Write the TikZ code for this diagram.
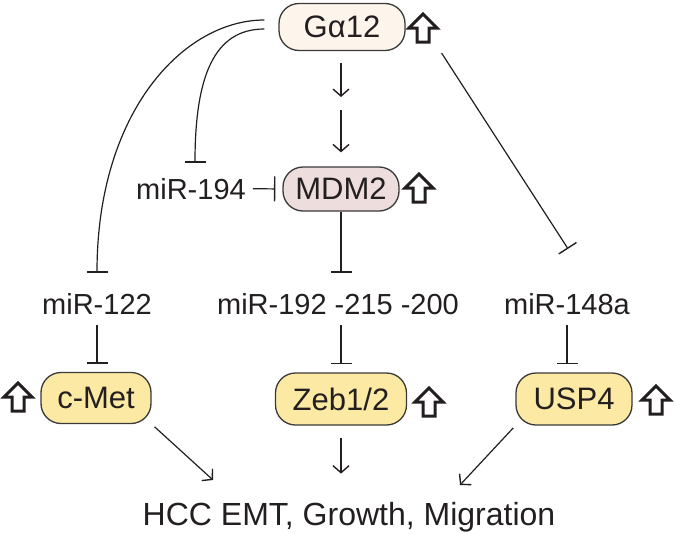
\documentclass[tikz,border=0pt]{standalone}
\usepackage{fontspec}
\setmainfont{Liberation Sans}
\usetikzlibrary{arrows.meta}
\definecolor{txt}{HTML}{231F20}
\definecolor{peach}{HTML}{FDF4EC}
\definecolor{mauve}{HTML}{EDDDDD}
\definecolor{paleyellow}{HTML}{FCE9A4}
\definecolor{edge}{HTML}{3A3A3A}
\begin{document}
\begin{tikzpicture}[x=1pt,y=-1pt,
  box/.style={draw=edge, line width=1.3pt, rounded corners=20pt, inner sep=0pt,
    font=\fontsize{31}{36}\selectfont, text=txt},
  lbl/.style={inner sep=0pt, anchor=base, font=\fontsize{29}{34}\selectfont, text=txt},
  inh/.style={draw=txt, line width=1.2pt, -{Bar[width=21pt,line width=1.4pt]}},
  act/.style={draw=txt, line width=1.2pt, -{Straight Barb[length=7pt,width=16pt,line width=1.4pt]}},
  uparrow/.pic={\draw[line width=3pt, draw=txt, fill=white, line join=miter, miter limit=4]
      (0,-14)--(14,0)--(6,0)--(6,14)--(-6,14)--(-6,0)--(-14,0)--cycle;}
]
\useasboundingbox (0,0) rectangle (674,533);
\fill[white] (0,0) rectangle (674,533);

% nodes
\node[box, fill=peach, minimum width=126pt, minimum height=47pt] (G) at (342,27) {Gα12};
\node[box, fill=mauve, minimum width=116pt, minimum height=44pt] (MDM2) at (341,189) {MDM2};
\node[lbl] (m194) at (191,199) {miR-194};
\node[lbl] (m122) at (97,314) {miR-122};
\node[lbl] (m192) at (338,314) {miR-192 -215 -200};
\node[lbl] (m148) at (567,314) {miR-148a};
\node[box, fill=paleyellow, minimum width=110pt, minimum height=51pt] (cmet) at (96,398) {c-Met};
\node[box, fill=paleyellow, minimum width=131pt, minimum height=52pt] (zeb) at (341,399) {Zeb1/2};
\node[box, fill=paleyellow, minimum width=116pt, minimum height=52pt] (usp) at (574,399) {USP4};
\node[inner sep=0pt, anchor=base, font=\fontsize{32}{38}\selectfont, text=txt] (hcc) at (349,525)
  {HCC EMT, Growth, Migration};

% up arrows
\pic (upG) at (423,28) {uparrow};
\pic (upM) at (419,188) {uparrow};
\pic (upC) at (18,397) {uparrow};
\pic (upZ) at (429,402) {uparrow};
\pic (upU) at (656,400) {uparrow};

% coordinates
\coordinate (mid) at (341,104);
\coordinate (h1) at (213,480);
\coordinate (h3) at (460,485);

% G alpha 12 -> MDM2 (indirect)
\draw[act, shorten <=12pt, shorten >=7pt] (G.south -| mid) -- (mid);
\draw[act, shorten <=6pt, shorten >=14pt] (mid) -- (MDM2.north);

% curved inhibitions from G alpha 12
\draw[inh] ([xshift=-14pt,yshift=7pt]G.west) .. controls +(-80,0) and +(0,-162) .. ([yshift=20pt]m122.north);
\draw[inh] ([xshift=-14pt,yshift=-2pt]G.west) .. controls +(-50,0) and +(0,-87) .. ([xshift=4pt,yshift=15pt]m194.north);
\draw[inh] ([xshift=36pt,yshift=-2pt]G.south east) -- ([xshift=1pt,yshift=44pt]m148.north);

% miR-194 -| MDM2
\draw[draw=txt, line width=1.2pt, -{Bar[width=25pt,line width=1.4pt]}, shorten <=7pt, shorten >=7pt] (m194.east) -- (MDM2.west);

% MDM2 -| miR-192
\draw[inh, shorten >=20pt] (MDM2.south) -- (MDM2.south |- m192.north);

% miRs -| targets
\draw[inh, shorten <=11pt, shorten >=8pt] (m122.south) -- (m122.south |- cmet.north);
\draw[inh, shorten <=11pt, shorten >=8pt] (m192.south -| zeb.north) -- (zeb.north);
\draw[inh, shorten <=11pt, shorten >=8pt] (m148.south) -- (m148.south |- usp.north);

% targets -> HCC
\draw[act, shorten <=4pt] (cmet.south east) -- (h1);
\draw[act, shorten <=12pt, shorten >=28pt] (zeb.south) -- (zeb.south |- hcc.north);
\draw[act, shorten <=3pt] (usp.south west) -- (h3);
\end{tikzpicture}
\end{document}
